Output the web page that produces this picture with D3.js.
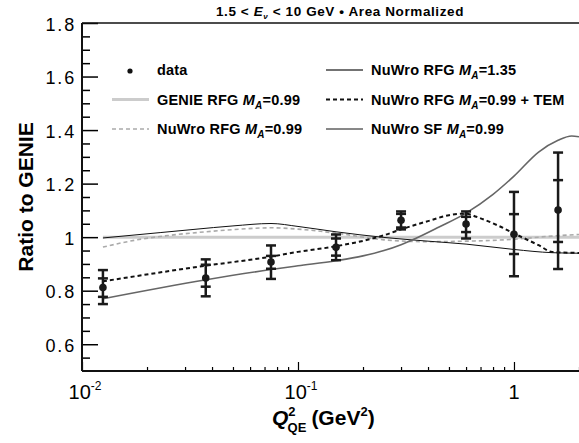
<!DOCTYPE html>
<meta charset="utf-8">
<head>
	<script type="text/javascript" src="https://cdn.jsdelivr.net/npm/d3@7"></script>
	<style>
		body { margin: 0; background: #fff; }
		text { font-family: "Liberation Sans", Arial, sans-serif; }
	</style>
</head>
<body>
	<svg id="chart" width="579" height="443"></svg>
</body>
<script type="text/javascript">
	// data points (Q2 in GeV2, ratio to GENIE)
	var qData = [0.0125, 0.0374, 0.075, 0.15, 0.30, 0.60, 1.0, 1.6];
	var ratioData = [0.812, 0.847, 0.907, 0.962, 1.063, 1.049, 1.011, 1.101];
	// inner (stat) and outer (total) error bars
	var innerLo = [0.777, 0.815, 0.882, 0.931, 1.036, 1.019, 0.937, 0.982];
	var innerHi = [0.846, 0.897, 0.930, 0.995, 1.087, 1.076, 1.086, 1.213];
	var outerLo = [0.750, 0.779, 0.844, 0.914, 1.029, 0.995, 0.854, 0.881];
	var outerHi = [0.877, 0.917, 0.969, 1.010, 1.096, 1.096, 1.169, 1.316];

	// model curves
	var genieQ = [0.0125, 2.0];
	var genieR = [1.0, 1.0];
	var rfgQ = [0.0125, 0.018, 0.025, 0.035, 0.05, 0.075, 0.1, 0.15, 0.25, 0.4, 0.6, 1.0, 1.5, 2.0];
	var rfgR = [0.963, 0.99, 1.006, 1.018, 1.028, 1.035, 1.03, 1.015, 0.99, 0.983, 0.985, 0.992, 1.004, 1.01];
	var ma135Q = [0.0125, 0.037, 0.075, 0.1, 0.15, 0.2, 0.25, 0.3, 0.35, 0.45, 0.6, 0.8, 1.0, 1.3, 1.6, 1.85, 2.0];
	var ma135R = [0.77, 0.84, 0.879, 0.893, 0.912, 0.93, 0.95, 0.972, 0.995, 1.038, 1.09, 1.16, 1.228, 1.318, 1.362, 1.378, 1.375];
	var temQ = [0.0125, 0.037, 0.075, 0.1, 0.15, 0.25, 0.3, 0.4, 0.5, 0.6, 0.67, 0.84, 1.0, 1.3, 1.5, 2.0];
	var temR = [0.835, 0.893, 0.927, 0.945, 0.966, 1.007, 1.029, 1.06, 1.082, 1.088, 1.076, 1.044, 1.014, 0.97, 0.945, 0.941];
	var sfQ = [0.0125, 0.023, 0.033, 0.05, 0.075, 0.1, 0.15, 0.25, 0.4, 0.6, 1.0, 1.5, 2.0];
	var sfR = [0.997, 1.017, 1.029, 1.042, 1.051, 1.04, 1.02, 0.999, 0.985, 0.974, 0.954, 0.942, 0.94];

	var yTicks = [0.6, 0.8, 1, 1.2, 1.4, 1.6, 1.8];

	var svg = d3.select('#chart');
	var pLeft = 82, pRight = 579, pTop = 23, pBottom = 371;

	var x = d3.scaleLog().domain([0.01, 2]).range([pLeft, pRight]);
	var y = d3.scaleLinear().domain([0.5, 1.8]).range([pBottom, pTop]);

	function zip(qs, rs) { return qs.map(function(q, i){ return [q, rs[i]]; }); }
	var line = d3.line()
		.x(function(d){ return x(d[0]); })
		.y(function(d){ return y(d[1]); })
		.curve(d3.curveMonotoneX);

	var plot = svg.append('g');

	// curves
	plot.append('path').attr('d', line(zip(genieQ, genieR)))
		.attr('fill', 'none').attr('stroke', '#cccccc').attr('stroke-width', 3);
	plot.append('path').attr('d', line(zip(rfgQ, rfgR)))
		.attr('fill', 'none').attr('stroke', '#aaaaaa').attr('stroke-width', 1.6).attr('stroke-dasharray', '4,3');
	plot.append('path').attr('d', line(zip(sfQ, sfR)))
		.attr('fill', 'none').attr('stroke', '#111').attr('stroke-width', 1);
	plot.append('path').attr('d', line(zip(ma135Q, ma135R)))
		.attr('fill', 'none').attr('stroke', '#666666').attr('stroke-width', 1.6);
	plot.append('path').attr('d', line(zip(temQ, temR)))
		.attr('fill', 'none').attr('stroke', '#111').attr('stroke-width', 2).attr('stroke-dasharray', '4,3');

	// error bars
	var pts = qData.map(function(q, i){
		return {q: q, r: ratioData[i], ilo: innerLo[i], ihi: innerHi[i], olo: outerLo[i], ohi: outerHi[i]};
	});
	var eb = plot.selectAll('.eb').data(pts).enter().append('g').attr('class', 'eb')
		.attr('stroke', '#1a1a1a').attr('stroke-width', 2.5);
	eb.append('line')
		.attr('x1', function(d){ return x(d.q); }).attr('x2', function(d){ return x(d.q); })
		.attr('y1', function(d){ return y(d.olo); }).attr('y2', function(d){ return y(d.ohi); });
	['olo', 'ohi', 'ilo', 'ihi'].forEach(function(k){
		eb.append('line')
			.attr('x1', function(d){ return x(d.q) - 5; }).attr('x2', function(d){ return x(d.q) + 5; })
			.attr('y1', function(d){ return y(d[k]); }).attr('y2', function(d){ return y(d[k]); });
	});
	plot.selectAll('.pt').data(pts).enter().append('circle')
		.attr('cx', function(d){ return x(d.q); }).attr('cy', function(d){ return y(d.r); })
		.attr('r', 3.8).attr('fill', '#1a1a1a');

	// axes
	var yAxis = d3.axisRight(y).tickValues(yTicks).tickSize(16).tickFormat('');
	svg.append('g').attr('transform', 'translate(' + pLeft + ',0)').call(yAxis)
		.call(function(g){ g.select('.domain').remove(); g.selectAll('line').attr('stroke-width', 1.5); });
	var yMinor = d3.range(0.55, 1.8, 0.05).filter(function(v){ return Math.abs(v * 5 - Math.round(v * 5)) > 0.01; });
	svg.append('g').attr('transform', 'translate(' + pLeft + ',0)')
		.call(d3.axisRight(y).tickValues(yMinor).tickSize(8).tickFormat(''))
		.call(function(g){ g.select('.domain').remove(); g.selectAll('line').attr('stroke-width', 1.5); });

	svg.selectAll('.ylab').data(yTicks).enter().append('text')
		.attr('x', 76).attr('y', function(d){ return y(d) + 7.5; })
		.attr('text-anchor', 'end').attr('font-size', 18).attr('letter-spacing', 1.8)
		.text(function(d){ return d3.format('~g')(d); });

	var xMajor = [0.01, 0.1, 1];
	var xMinor = [];
	[0.01, 0.1, 1].forEach(function(dec){
		for (var k = 2; k <= 9; k++) { if (dec * k <= 2) xMinor.push(dec * k); }
	});
	svg.append('g').attr('transform', 'translate(0,' + pBottom + ')')
		.call(d3.axisTop(x).tickValues(xMajor).tickSize(9).tickFormat(''))
		.call(function(g){ g.select('.domain').remove(); g.selectAll('line').attr('stroke-width', 1.2); });
	svg.append('g').attr('transform', 'translate(0,' + pBottom + ')')
		.call(d3.axisTop(x).tickValues(xMinor).tickSize(4).tickFormat(''))
		.call(function(g){ g.select('.domain').remove(); g.selectAll('line').attr('stroke-width', 1.2); });

	// frame lines
	svg.append('line').attr('x1', pLeft).attr('x2', pLeft).attr('y1', pTop).attr('y2', pBottom)
		.attr('stroke', '#111').attr('stroke-width', 2);
	svg.append('line').attr('x1', pLeft).attr('x2', pRight).attr('y1', pBottom).attr('y2', pBottom)
		.attr('stroke', '#111').attr('stroke-width', 2);
	svg.append('line').attr('x1', pLeft).attr('x2', pRight).attr('y1', pTop).attr('y2', pTop)
		.attr('stroke', '#111').attr('stroke-width', 1.5);

	// x tick labels
	var xl = [{v: 0.01, b: '10', e: '-2'}, {v: 0.1, b: '10', e: '-1'}, {v: 1, b: '1', e: ''}];
	xl.forEach(function(t){
		var tx = svg.append('text').attr('x', x(t.v) + (t.e ? 3 : 0)).attr('y', 399).attr('text-anchor', 'middle').attr('font-size', 20);
		tx.append('tspan').text(t.b);
		if (t.e) tx.append('tspan').attr('dy', -9).attr('font-size', 12).text(t.e);
	});

	// axis titles
	svg.append('text').attr('transform', 'translate(33,' + 197 + ') rotate(-90)')
		.attr('text-anchor', 'middle').attr('font-size', 21).attr('font-weight', 'bold')
		.text('Ratio to GENIE');
	var xt = svg.append('text').attr('x', 272).attr('y', 425).attr('font-size', 21).attr('font-weight', 'bold');
	xt.append('tspan').attr('font-style', 'italic').text('Q');
	xt.append('tspan').attr('dy', -9).attr('font-size', 13).text('2');
	xt.append('tspan').attr('dx', -8).attr('dy', 16).attr('font-size', 13).text('QE');
	xt.append('tspan').attr('dy', -7).attr('dx', 5).text('(GeV');
	xt.append('tspan').attr('dy', -9).attr('font-size', 13).text('2');
	xt.append('tspan').attr('dy', 9).text(')');

	// title
	var tt = svg.append('text').attr('x', 340).attr('y', 16).attr('text-anchor', 'middle')
		.attr('font-size', 13.5).attr('font-weight', 'bold').attr('letter-spacing', 0.6);
	tt.append('tspan').text('1.5 < ');
	tt.append('tspan').attr('font-style', 'italic').text('E');
	tt.append('tspan').attr('font-style', 'italic').attr('font-size', 8).attr('dy', 3).text('ν');
	tt.append('tspan').attr('dy', -3).text(' < 10 GeV • Area Normalized');

	// legend
	var legend = [
		{col: 0, row: 0, label: 'data', type: 'dot'},
		{col: 0, row: 1, label: 'GENIE RFG ', ma: '=0.99', stroke: '#cccccc', w: 3, dash: null},
		{col: 0, row: 2, label: 'NuWro RFG ', ma: '=0.99', stroke: '#aaaaaa', w: 1.6, dash: '4,3'},
		{col: 1, row: 0, label: 'NuWro RFG ', ma: '=1.35', stroke: '#444444', w: 1.3, dash: null},
		{col: 1, row: 1, label: 'NuWro RFG ', ma: '=0.99 + TEM', stroke: '#111', w: 2, dash: '4,3'},
		{col: 1, row: 2, label: 'NuWro SF ', ma: '=0.99', stroke: '#111', w: 1, dash: null}
	];
	var colX = [112, 326], rowY = [70, 99.5, 129];
	legend.forEach(function(d){
		var lx = colX[d.col], ly = rowY[d.row];
		if (d.type === 'dot') {
			svg.append('circle').attr('cx', lx + 18).attr('cy', ly + 1).attr('r', 2.6).attr('fill', '#111');
		} else {
			svg.append('line').attr('x1', lx).attr('x2', lx + 37).attr('y1', ly).attr('y2', ly)
				.attr('stroke', d.stroke).attr('stroke-width', d.w).attr('stroke-dasharray', d.dash);
		}
		var t = svg.append('text').attr('x', lx + 45).attr('y', ly + 5)
			.attr('font-size', 14.5).attr('font-weight', 'bold').attr('letter-spacing', 0.2);
		t.append('tspan').text(d.label);
		if (d.ma) {
			t.append('tspan').attr('font-style', 'italic').text('M');
			t.append('tspan').attr('font-style', 'italic').attr('font-size', 10).attr('dy', 4).text('A');
			t.append('tspan').attr('dy', -4).text(d.ma);
		}
	});
</script>
